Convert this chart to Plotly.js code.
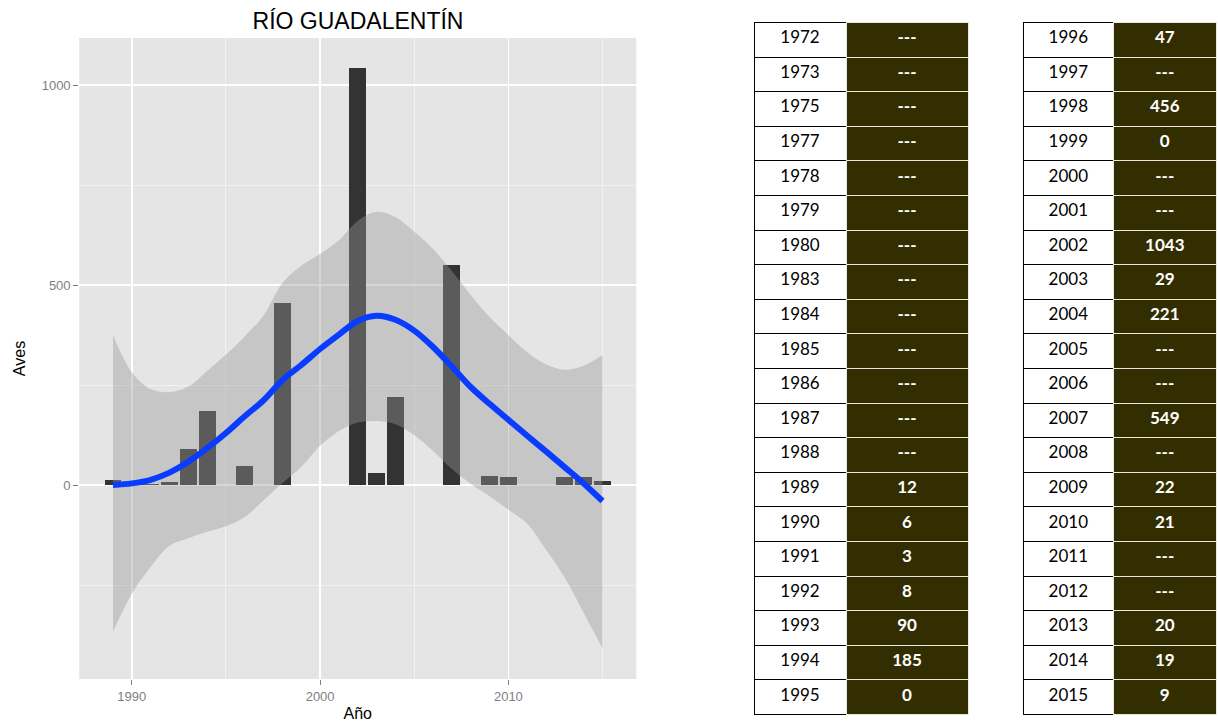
<!DOCTYPE html>
<html>
<head>
<meta charset="utf-8">
<script src="https://cdn.plot.ly/plotly-3.0.1.min.js"></script>
<style>
  html, body { margin: 0; padding: 0; background: #ffffff; }
  #chart { width: 1218px; height: 722px; }
</style>
</head>
<body>
<div id="chart"></div>
<script>
// ---- Table data (as printed) ----
const yearsLeft  = ['1972','1973','1975','1977','1978','1979','1980','1983','1984','1985',
                    '1986','1987','1988','1989','1990','1991','1992','1993','1994','1995'];
const valuesLeft = ['---','---','---','---','---','---','---','---','---','---',
                    '---','---','---','12','6','3','8','90','185','0'];
const yearsRight  = ['1996','1997','1998','1999','2000','2001','2002','2003','2004','2005',
                     '2006','2007','2008','2009','2010','2011','2012','2013','2014','2015'];
const valuesRight = ['47','---','456','0','---','---','1043','29','221','---',
                     '---','549','---','22','21','---','---','20','19','9'];

// ---- Smoothed trend ----
const smoothYears = [1989,1990,1991,1992,1993,1994,1995,1996,1997,1998,1999,2000,2001,2002,
                     2003,2004,2005,2006,2007,2008,2009,2010,2011,2012,2013,2014,2015];
const smoothFit   = [0,4,13,31,58,92,130,172,212,262,300,340,376,410,
                     423,413,386,345,296,245,203,163,123,84,44,4,-40];
const smoothUpper = [375,282,240,232,246,285,326,372,424,505,548,578,612,660,
                     683,670,633,590,535,475,420,375,332,302,288,298,325];
const smoothLower = [-367,-272,-205,-152,-133,-117,-103,-80,-38,5,45,98,135,156,
                     160,152,125,85,40,3,-28,-62,-97,-162,-232,-320,-408];

// Bars: numeric counts from the tables (1989 onwards)
const allYears = yearsLeft.concat(yearsRight);
const allVals = valuesLeft.concat(valuesRight);
const barYears = [], barVals = [];
allYears.forEach((y, i) => {
  if (allVals[i] !== '---' && +y >= 1989) { barYears.push(+y); barVals.push(+allVals[i]); }
});

const W = 1218, H = 722;
const px = v => v / W;
const py = v => 1 - v / H;

const darkFill = '#322e02';
const tableFont = 'Lato, "Open Sans", sans-serif';
const rowH = 34.6;

function makeTable(years, vals, x0, x1, colW) {
  const n = years.length - 1;
  const font = {
    family: [tableFont, tableFont],
    size: [17, 17],
    color: ['#000000', '#ffffff'],
    weight: ['normal', 'bold']
  };
  return {
    type: 'table',
    domain: { x: [px(x0), px(x1)], y: [py(715.5), py(22.5)] },
    columnwidth: colW,
    // first printed row is used as the header row so no blank header is drawn
    header: {
      values: [[years[0]], [vals[0]]],
      height: rowH,
      align: ['center', 'center'],
      fill: { color: ['#ffffff', darkFill] },
      line: { color: ['#000000', '#e8e8dc'], width: 1 },
      font: font
    },
    cells: {
      values: [years.slice(1), vals.slice(1)],
      height: rowH,
      align: ['center', 'center'],
      fill: { color: ['#ffffff', darkFill] },
      line: { color: [Array(n).fill('#000000'), Array(n).fill('#e8e8dc')], width: 1 },
      font: font
    }
  };
}

const data = [
  {
    type: 'bar', x: barYears, y: barVals, width: 0.9,
    marker: { color: '#333333', line: { width: 0 } },
    xaxis: 'x', yaxis: 'y', hoverinfo: 'x+y', showlegend: false
  },
  {
    type: 'scatter', mode: 'lines', x: smoothYears, y: smoothLower,
    line: { width: 0, shape: 'spline', smoothing: 1, color: 'rgba(0,0,0,0)' },
    xaxis: 'x', yaxis: 'y', hoverinfo: 'skip', showlegend: false
  },
  {
    type: 'scatter', mode: 'lines', x: smoothYears, y: smoothUpper,
    fill: 'tonexty', fillcolor: 'rgba(153,153,153,0.4)',
    line: { width: 0, shape: 'spline', smoothing: 1, color: 'rgba(0,0,0,0)' },
    xaxis: 'x', yaxis: 'y', hoverinfo: 'skip', showlegend: false
  },
  {
    type: 'scatter', mode: 'lines', x: smoothYears, y: smoothFit,
    line: { color: '#0a3cff', width: 6, shape: 'spline', smoothing: 1 },
    xaxis: 'x', yaxis: 'y', showlegend: false
  },
  makeTable(yearsLeft, valuesLeft, 754, 968, [92, 122]),
  makeTable(yearsRight, valuesRight, 1023, 1217, [91, 103])
];

const tickFont = { family: '"Liberation Sans", Arial, sans-serif', size: 13, color: '#7f7f7f' };
const titleFont = { family: '"Liberation Sans", Arial, sans-serif', size: 16, color: '#000000' };

const layout = {
  width: W, height: H,
  margin: { l: 0, r: 0, t: 0, b: 0 },
  paper_bgcolor: '#ffffff',
  plot_bgcolor: '#e5e5e5',
  showlegend: false,
  bargap: 0,
  title: {
    text: 'RÍO GUADALENTÍN',
    x: px(358), xanchor: 'center', y: py(21), yanchor: 'middle',
    font: { family: '"Liberation Sans", Arial, sans-serif', size: 23, color: '#000000' }
  },
  xaxis: {
    domain: [px(79.2), px(636.3)],
    range: [1987.205, 2016.795],
    tickvals: [1990, 2000, 2010],
    ticktext: ['1990', '2000', '2010'],
    ticks: 'outside', ticklen: 5, tickwidth: 1, tickcolor: '#7f7f7f',
    tickfont: tickFont,
    showgrid: true, gridcolor: '#ffffff', gridwidth: 1.5,
    minor: { tickvals: [1995, 2005, 2015], showgrid: true, gridcolor: '#f2f2f2', gridwidth: 1 },
    zeroline: false, showline: false,
    title: { text: 'Año', font: titleFont, standoff: 6 },
    anchor: 'y'
  },
  yaxis: {
    domain: [py(679), py(38)],
    range: [-485, 1117.5],
    tickvals: [0, 500, 1000],
    ticktext: ['0', '500', '1000'],
    ticks: 'outside', ticklen: 5, tickwidth: 1, tickcolor: '#7f7f7f',
    tickfont: tickFont,
    showgrid: true, gridcolor: '#ffffff', gridwidth: 1.5,
    minor: { tickvals: [-250, 250, 750], showgrid: true, gridcolor: '#f2f2f2', gridwidth: 1 },
    zeroline: false, showline: false,
    title: { text: 'Aves', font: titleFont, standoff: 12 },
    anchor: 'x'
  }
};

Plotly.newPlot('chart', data, layout, { staticPlot: true, displayModeBar: false });
</script>
</body>
</html>
